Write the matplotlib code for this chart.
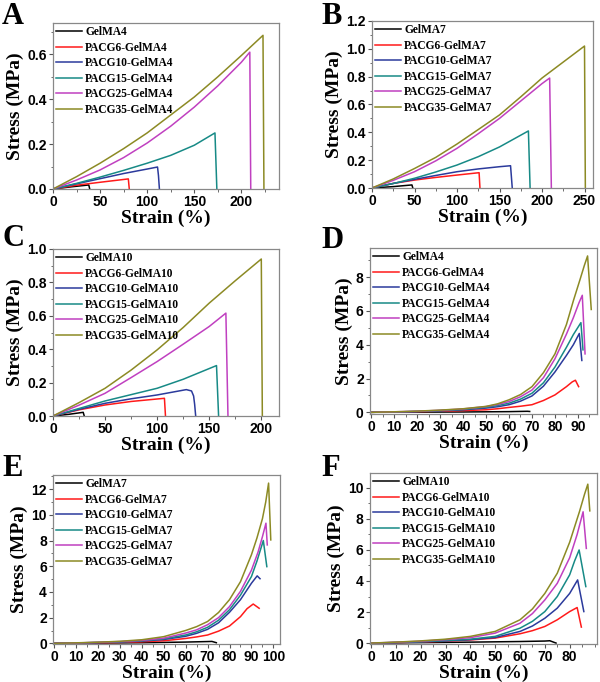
import matplotlib
matplotlib.use("Agg")
import matplotlib.pyplot as plt
from matplotlib.ticker import MultipleLocator, FormatStrFormatter, FixedLocator

# ---------------- data ----------------
colors = ["#000000", "#ff1a1a", "#2b3a9c", "#178a86", "#c040c0", "#8c8a24"]

# Panel A (GelMA4, low strain range)
labels_A = ["GelMA4", "PACG6-GelMA4", "PACG10-GelMA4", "PACG15-GelMA4", "PACG25-GelMA4", "PACG35-GelMA4"]
A_x = [
    [0, 20, 38, 39],
    [0, 25, 50, 80, 81],
    [0, 25, 50, 75, 100, 111, 112, 113],
    [0, 25, 50, 75, 100, 125, 150, 172, 174],
    [0, 25, 50, 75, 100, 125, 150, 175, 200, 209, 210],
    [0, 25, 50, 75, 100, 125, 150, 175, 200, 223, 224],
]
A_y = [
    [0, 0.010, 0.018, 0],
    [0, 0.017, 0.030, 0.045, 0],
    [0, 0.023, 0.046, 0.069, 0.089, 0.098, 0.06, 0],
    [0, 0.025, 0.053, 0.083, 0.115, 0.150, 0.195, 0.250, 0],
    [0, 0.040, 0.085, 0.140, 0.205, 0.280, 0.365, 0.460, 0.565, 0.610, 0],
    [0, 0.055, 0.115, 0.180, 0.250, 0.330, 0.410, 0.500, 0.595, 0.685, 0],
]

# Panel B (GelMA7)
labels_B = ["GelMA7", "PACG6-GelMA7", "PACG10-GelMA7", "PACG15-GelMA7", "PACG25-GelMA7", "PACG35-GelMA7"]
B_x = [
    [0, 25, 47, 48],
    [0, 25, 50, 75, 100, 126, 127],
    [0, 25, 50, 75, 100, 125, 150, 163, 165],
    [0, 25, 50, 75, 100, 125, 150, 184, 186],
    [0, 25, 50, 75, 100, 125, 150, 175, 200, 209, 211],
    [0, 25, 50, 75, 100, 125, 150, 175, 200, 225, 250, 251],
]
B_y = [
    [0, 0.010, 0.022, 0],
    [0, 0.033, 0.057, 0.076, 0.093, 0.110, 0],
    [0, 0.033, 0.062, 0.090, 0.117, 0.137, 0.153, 0.160, 0],
    [0, 0.032, 0.070, 0.115, 0.165, 0.225, 0.295, 0.410, 0],
    [0, 0.055, 0.117, 0.195, 0.285, 0.390, 0.500, 0.625, 0.750, 0.790, 0],
    [0, 0.065, 0.140, 0.220, 0.316, 0.420, 0.525, 0.655, 0.790, 0.905, 1.020, 0],
]

# Panel C (GelMA10)
labels_C = ["GelMA10", "PACG6-GelMA10", "PACG10-GelMA10", "PACG15-GelMA10", "PACG25-GelMA10", "PACG35-GelMA10"]
C_x = [
    [0, 15, 29, 30],
    [0, 25, 50, 75, 107, 108],
    [0, 25, 50, 75, 100, 128, 133, 135, 136, 137],
    [0, 25, 50, 75, 100, 125, 157, 159],
    [0, 25, 50, 75, 100, 125, 150, 166, 168],
    [0, 25, 50, 75, 100, 125, 150, 175, 200, 201],
]
C_y = [
    [0, 0.010, 0.022, 0],
    [0, 0.037, 0.066, 0.087, 0.106, 0],
    [0, 0.040, 0.076, 0.103, 0.126, 0.158, 0.150, 0.120, 0.070, 0],
    [0, 0.045, 0.090, 0.128, 0.166, 0.220, 0.302, 0],
    [0, 0.065, 0.136, 0.230, 0.326, 0.430, 0.536, 0.616, 0],
    [0, 0.080, 0.166, 0.275, 0.396, 0.530, 0.676, 0.810, 0.940, 0],
]

# Panel D (GelMA4, high strain)
D_x = [
    [0, 20, 40, 60, 68, 69],
    [0, 10, 20, 30, 40, 50, 55, 60, 65, 70, 75, 80, 85, 87.5, 88.9, 90.3],
    [0, 10, 20, 30, 40, 50, 55, 60, 65, 70, 75, 80, 85, 88, 90.6, 91.7],
    [0, 10, 20, 30, 40, 50, 55, 60, 65, 70, 75, 80, 85, 88, 91.3, 92.2],
    [0, 10, 20, 30, 40, 50, 55, 60, 65, 70, 75, 80, 85, 88, 90.5, 91.9, 93.1],
    [0, 10, 20, 30, 40, 50, 55, 60, 65, 70, 75, 80, 85, 88, 91, 92.8, 94.2, 95.8],
]
D_y = [
    [0, 0.01, 0.02, 0.04, 0.06, 0.05],
    [0, 0.02, 0.04, 0.07, 0.10, 0.15, 0.21, 0.29, 0.36, 0.45, 0.70, 1.03, 1.52, 1.80, 1.90, 1.52],
    [0, 0.02, 0.05, 0.09, 0.15, 0.25, 0.33, 0.45, 0.66, 0.97, 1.55, 2.39, 3.37, 4.00, 4.67, 3.07],
    [0, 0.02, 0.05, 0.10, 0.17, 0.30, 0.40, 0.54, 0.78, 1.13, 1.75, 2.68, 3.85, 4.60, 5.31, 3.70],
    [0, 0.03, 0.06, 0.12, 0.20, 0.34, 0.46, 0.64, 0.92, 1.32, 2.05, 3.17, 4.63, 5.60, 6.50, 6.93, 3.46],
    [0, 0.03, 0.07, 0.13, 0.21, 0.35, 0.50, 0.74, 1.05, 1.52, 2.35, 3.46, 5.20, 6.60, 7.90, 8.70, 9.26, 6.09],
]

# Panel E (GelMA7, high strain)
E_x = [
    [0, 20, 40, 60, 70, 72, 74],
    [0, 10, 20, 30, 40, 50, 60, 65, 70, 75, 80, 85, 88, 90.8, 93.5],
    [0, 10, 20, 30, 40, 50, 60, 65, 70, 75, 80, 85, 90, 92.6, 93.9],
    [0, 10, 20, 30, 40, 50, 60, 65, 70, 75, 80, 85, 90, 92.5, 95.4, 97.0],
    [0, 10, 20, 30, 40, 50, 60, 65, 70, 75, 80, 85, 90, 93, 95, 96.6, 97.2],
    [0, 10, 20, 30, 40, 50, 60, 65, 70, 75, 80, 85, 90, 92.5, 95, 96.5, 97.8, 98.8],
]
E_y = [
    [0, 0.02, 0.05, 0.10, 0.14, 0.15, 0.05],
    [0, 0.02, 0.04, 0.07, 0.12, 0.20, 0.38, 0.50, 0.65, 0.95, 1.35, 2.08, 2.70, 3.06, 2.73],
    [0, 0.03, 0.06, 0.10, 0.18, 0.30, 0.55, 0.78, 1.09, 1.60, 2.42, 3.40, 4.68, 5.25, 5.03],
    [0, 0.03, 0.07, 0.12, 0.20, 0.35, 0.65, 0.90, 1.25, 1.80, 2.62, 3.75, 5.20, 6.40, 8.00, 5.97],
    [0, 0.03, 0.08, 0.14, 0.23, 0.40, 0.80, 1.05, 1.45, 2.00, 2.86, 4.05, 5.70, 7.10, 8.30, 9.35, 7.66],
    [0, 0.04, 0.09, 0.16, 0.28, 0.52, 1.00, 1.30, 1.70, 2.40, 3.40, 4.80, 6.90, 8.20, 9.70, 11.00, 12.47, 8.05],
]

# Panel F (GelMA10, high strain)
F_x = [
    [0, 20, 40, 60, 70, 72, 74.5],
    [0, 10, 20, 30, 40, 50, 60, 65, 70, 75, 80, 83.0, 84.7],
    [0, 10, 20, 30, 40, 50, 60, 65, 70, 75, 80, 83.2, 85.7],
    [0, 10, 20, 30, 40, 50, 60, 65, 70, 75, 80, 82, 83.8, 86.5],
    [0, 10, 20, 30, 40, 50, 60, 65, 70, 75, 80, 83, 85.4, 86.7],
    [0, 10, 20, 30, 40, 50, 60, 65, 70, 75, 80, 84, 86, 87.3, 88.1],
]
F_y = [
    [0, 0.03, 0.06, 0.10, 0.13, 0.15, 0.0],
    [0, 0.03, 0.07, 0.12, 0.20, 0.32, 0.60, 0.80, 1.07, 1.50, 2.03, 2.29, 1.03],
    [0, 0.03, 0.08, 0.14, 0.22, 0.36, 0.75, 1.10, 1.60, 2.25, 3.20, 4.07, 2.03],
    [0, 0.04, 0.09, 0.16, 0.25, 0.43, 0.96, 1.40, 2.03, 3.00, 4.40, 5.30, 6.00, 3.64],
    [0, 0.05, 0.12, 0.22, 0.35, 0.64, 1.28, 1.90, 2.78, 3.85, 5.50, 7.00, 8.46, 6.10],
    [0, 0.06, 0.14, 0.25, 0.43, 0.75, 1.50, 2.20, 3.20, 4.50, 6.50, 8.50, 9.60, 10.24, 8.52],
]

# tick positions shown on the strain axis of each panel
A_xticks = [0, 50, 100, 150, 200]
B_xticks = [0, 50, 100, 150, 200, 250]
C_xticks = [0, 50, 100, 150, 200]
D_xticks = [0, 10, 20, 30, 40, 50, 60, 70, 80, 90]
E_xticks = [0, 10, 20, 30, 40, 50, 60, 70, 80, 90, 100]
F_xticks = [0, 10, 20, 30, 40, 50, 60, 70, 80]

# ---------------- figure ----------------
W, H = 600, 682
fig = plt.figure(figsize=(W / 100, H / 100), dpi=100)

def ax_at(l, r, t, b):
    return fig.add_axes([l / W, 1 - b / H, (r - l) / W, (b - t) / H])

serif = "Liberation Serif"
sans = "Liberation Sans"

panels = [
    ("A", (53, 279, 23, 189), A_x, A_y, labels_A, (0, 240), (0, 0.74), A_xticks, 25, 0.2, 0.1, "%.1f", (2, 24)),
    ("B", (372, 593, 21, 188), B_x, B_y, labels_B, (0, 260), (0, 1.2), B_xticks, 25, 0.2, 0.1, "%.1f", (321, 24)),
    ("C", (53, 279, 249, 416), C_x, C_y, labels_C, (0, 217), (0, 1.0), C_xticks, 25, 0.2, 0.1, "%.1f", (2, 246)),
    ("D", (370, 597, 248, 414), D_x, D_y, labels_A, (-0.5, 98.3), (-0.1, 9.73), D_xticks, 5, 2, 1, "%d", (321, 248)),
    ("E", (53, 280, 475, 644), E_x, E_y, labels_B, (-0.4, 103), (-0.05, 13.1), E_xticks, 5, 2, 1, "%d", (2, 476)),
    ("F", (370, 597, 473, 644), F_x, F_y, labels_C, (-0.4, 91.0), (-0.06, 10.96), F_xticks, 5, 2, 1, "%d", (321, 476)),
]

for letter, box, xs, ys, labs, xlim, ylim, xticks, xmin, ymaj, ymin, yfmt, lpos in panels:
    ax = ax_at(*box)
    for x, y, c, lab in zip(xs, ys, colors, labs):
        ax.plot(x, y, color=c, lw=1.1, label=lab)
    ax.set_xlim(*xlim)
    ax.set_ylim(*ylim)
    ax.xaxis.set_major_locator(FixedLocator(xticks))
    ax.xaxis.set_minor_locator(MultipleLocator(xmin))
    ax.yaxis.set_major_locator(MultipleLocator(ymaj))
    ax.yaxis.set_minor_locator(MultipleLocator(ymin))
    ax.yaxis.set_major_formatter(FormatStrFormatter(yfmt))
    ax.tick_params(which="major", direction="out", length=3, width=0.8, color="#555555",
                   labelsize=10, pad=1.5)
    ax.tick_params(which="minor", direction="out", length=1.8, width=0.6, color="#555555")
    for lbl in ax.get_xticklabels() + ax.get_yticklabels():
        lbl.set_fontfamily(sans)
        lbl.set_fontweight("bold")
    for s in ax.spines.values():
        s.set_color("#888888")
        s.set_linewidth(0.9)
    ax.set_xlabel("Strain (%)", fontfamily=serif, fontweight="bold", fontsize=14, labelpad=0)
    ax.set_ylabel("Stress (MPa)", fontfamily=serif, fontweight="bold", fontsize=14, labelpad=2)
    ax.legend(loc="upper left", frameon=False, handlelength=2.2,
              handletextpad=0.3, labelspacing=0.3, borderaxespad=0.0, borderpad=0.3,
              prop={"family": serif, "weight": "bold", "size": 8.3})
    fig.text(lpos[0] / W, 1 - lpos[1] / H, letter, fontfamily=serif, fontweight="bold",
             fontsize=22, ha="left", va="baseline")

fig.savefig("out.png", dpi=100)
